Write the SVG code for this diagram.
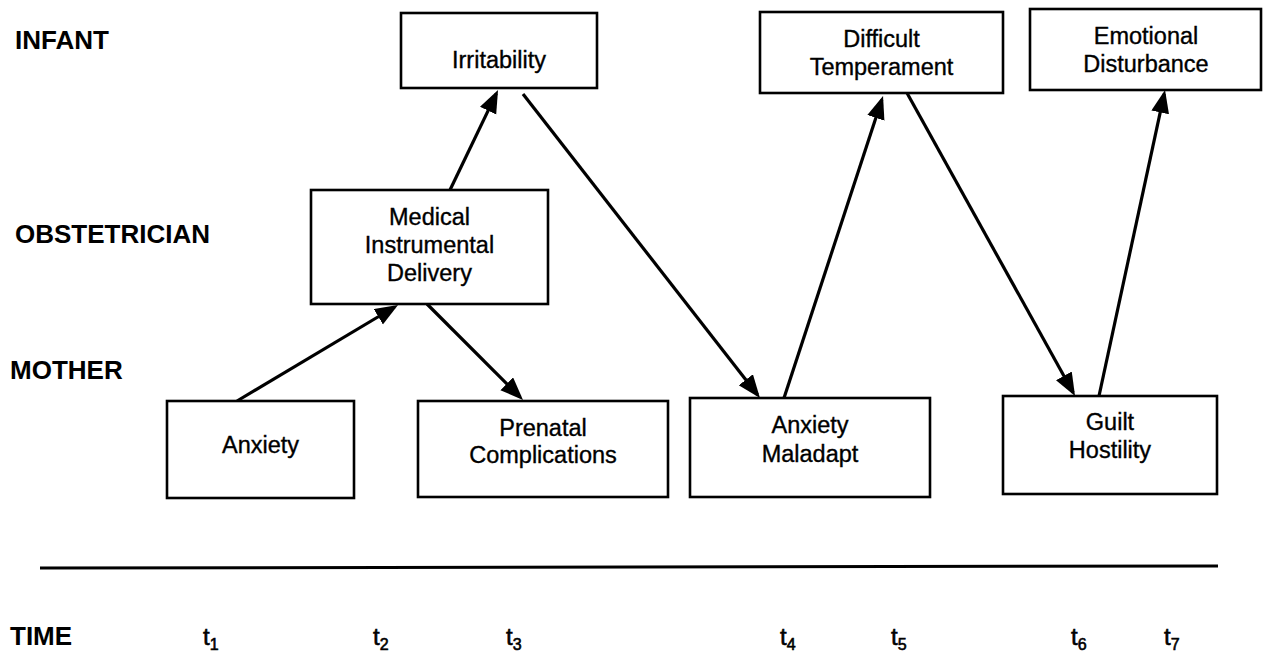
<svg xmlns="http://www.w3.org/2000/svg" width="1265" height="652" viewBox="0 0 1265 652">
<defs>
<style>
.box{fill:#fff;stroke:#000;stroke-width:2.6}
.t{font-family:"Liberation Sans",Arial,sans-serif;font-size:23.5px;fill:#000;stroke:#000;stroke-width:0.35;text-anchor:middle}
.lab{font-family:"Liberation Sans",Arial,sans-serif;font-size:26px;font-weight:bold;fill:#000}
.tm{font-family:"Liberation Sans",Arial,sans-serif;font-size:24px;fill:#000;stroke:#000;stroke-width:0.6}
.sub{font-size:16px}
.ar{stroke:#000;stroke-width:3.2;fill:none;marker-end:url(#ah)}
</style>
<marker id="ah" markerUnits="userSpaceOnUse" markerWidth="26" markerHeight="20" refX="19" refY="9" orient="auto">
<path d="M0,0 L23,9 L0,18 z" fill="#000"/>
</marker>
</defs>
<rect width="1265" height="652" fill="#fff"/>
<g id="labels">
<text class="lab" x="15" y="49">INFANT</text>
<text class="lab" x="15" y="243">OBSTETRICIAN</text>
<text class="lab" x="10" y="379">MOTHER</text>
<text class="lab" x="10" y="645">TIME</text>
</g>
<g id="connectors">
<line class="ar" x1="237" y1="401" x2="394.6" y2="307"/>
<line class="ar" x1="450" y1="190" x2="496.3" y2="93.6"/>
<line class="ar" x1="427" y1="304" x2="520.2" y2="397.2"/>
<line class="ar" x1="523" y1="94" x2="757.5" y2="394.8"/>
<line class="ar" x1="784" y1="398" x2="881.8" y2="99.8"/>
<line class="ar" x1="907" y1="93" x2="1073.1" y2="392.5"/>
<line class="ar" x1="1099" y1="396" x2="1164.2" y2="93.9"/>
</g>
<g id="irritability">
<rect class="box" x="401" y="13" width="196" height="75"/>
<text class="t" x="499" y="68">Irritability</text>
</g>
<g id="medical">
<rect class="box" x="311" y="190" width="237" height="114"/>
<text class="t" x="429.5" y="225">Medical</text>
<text class="t" x="429.5" y="253">Instrumental</text>
<text class="t" x="429.5" y="281">Delivery</text>
</g>
<g id="anxiety">
<rect class="box" x="167" y="401" width="187" height="97"/>
<text class="t" x="260.5" y="453">Anxiety</text>
</g>
<g id="prenatal">
<rect class="box" x="418" y="401" width="250" height="96"/>
<text class="t" x="543" y="436">Prenatal</text>
<text class="t" x="543" y="463">Complications</text>
</g>
<g id="difficult">
<rect class="box" x="760" y="12" width="243" height="81"/>
<text class="t" x="881.5" y="47">Difficult</text>
<text class="t" x="881.5" y="75">Temperament</text>
</g>
<g id="emotional">
<rect class="box" x="1030" y="9" width="231" height="81"/>
<text class="t" x="1146" y="44">Emotional</text>
<text class="t" x="1146" y="72">Disturbance</text>
</g>
<g id="anxiety-maladapt">
<rect class="box" x="690" y="398" width="240" height="99"/>
<text class="t" x="810" y="433">Anxiety</text>
<text class="t" x="810" y="462">Maladapt</text>
</g>
<g id="guilt">
<rect class="box" x="1003" y="396" width="214" height="98"/>
<text class="t" x="1110" y="430">Guilt</text>
<text class="t" x="1110" y="458">Hostility</text>
</g>
<g id="timeline">
<line x1="40" y1="568" x2="1218" y2="566" stroke="#000" stroke-width="3"/>
<text class="tm" x="203" y="645">t<tspan class="sub" dy="5">1</tspan></text>
<text class="tm" x="373" y="645">t<tspan class="sub" dy="5">2</tspan></text>
<text class="tm" x="506" y="645">t<tspan class="sub" dy="5">3</tspan></text>
<text class="tm" x="780" y="645">t<tspan class="sub" dy="5">4</tspan></text>
<text class="tm" x="891" y="645">t<tspan class="sub" dy="5">5</tspan></text>
<text class="tm" x="1071" y="645">t<tspan class="sub" dy="5">6</tspan></text>
<text class="tm" x="1164" y="645">t<tspan class="sub" dy="5">7</tspan></text>
</g>
</svg>
